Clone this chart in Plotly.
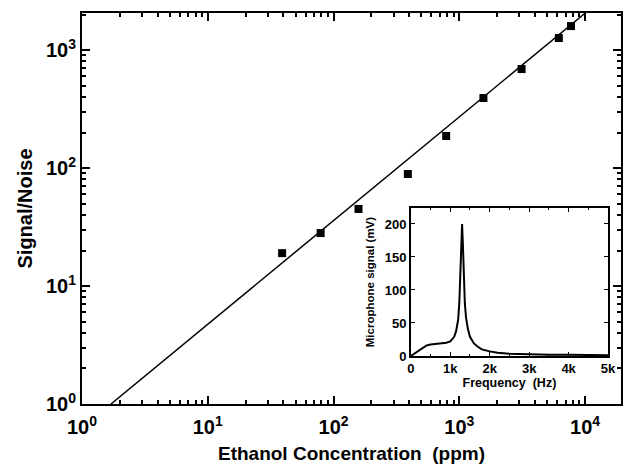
import plotly.graph_objects as go

# Main data: Signal/Noise vs ethanol concentration
conc_ppm = [39, 79, 158, 390, 787, 1556, 3130, 6190, 7730]
snr = [19.0, 28.1, 45.0, 89, 187, 392, 690, 1264, 1597]

# Fitted line (end points)
fit_x = [1.7, 10000]
fit_y = [1.0, 2050]

# Inset: microphone signal vs frequency
freq_khz = [0, 0.05, 0.1, 0.2, 0.3, 0.4, 0.5, 0.6, 0.7, 0.8, 0.9, 1.0, 1.05, 1.1, 1.15,
            1.2, 1.23, 1.26, 1.28, 1.3, 1.32, 1.34, 1.37, 1.4, 1.45, 1.5, 1.6, 1.7, 1.8,
            2.0, 2.2, 2.5, 3.0, 3.5, 4.0, 4.5, 5.0]
mic_mv = [0, 2, 5, 9, 13, 16, 17.5, 18, 18.5, 19, 20, 22, 25, 29, 38,
          55, 80, 140, 185, 200, 170, 120, 80, 58, 40, 29, 19, 14, 10,
          7, 5, 3.5, 2.5, 2, 1.8, 1.5, 1.2]

main_ticks = [1, 10, 100, 1000, 10000]
main_ticktext = ["10<sup>0</sup>", "10<sup>1</sup>", "10<sup>2</sup>", "10<sup>3</sup>", "10<sup>4</sup>"]
inset_xticks = [0, 1, 2, 3, 4, 5]
inset_xticktext = ["0", "1k", "2k", "3k", "4k", "5k"]
inset_yticks = [0, 50, 100, 150, 200]

minor_vals = [m * 10 ** e for e in range(0, 5) for m in range(2, 10)]

FONT = "Liberation Sans, Arial, sans-serif"

fig = go.Figure()
fig.add_trace(go.Scatter(x=fit_x, y=fit_y, mode="lines",
                         line=dict(color="black", width=1.5), showlegend=False))
fig.add_trace(go.Scatter(x=conc_ppm, y=snr, mode="markers",
                         marker=dict(symbol="square", size=8, color="black"), showlegend=False))
fig.add_trace(go.Scatter(x=freq_khz, y=mic_mv, mode="lines", xaxis="x2", yaxis="y2",
                         line=dict(color="black", width=2), showlegend=False))

axis_common = dict(showline=True, linecolor="black", linewidth=2, mirror="ticks",
                   ticks="inside", tickcolor="black", showgrid=False, zeroline=False,
                   automargin=False)

fig.update_layout(
    width=624, height=472,
    margin=dict(l=82, r=3, t=13, b=68),
    paper_bgcolor="white", plot_bgcolor="white",
    font=dict(family=FONT, color="black", weight="bold"),
    xaxis=dict(type="log", range=[0, 4.286], tickvals=main_ticks, ticktext=main_ticktext,
               ticklen=8, tickwidth=1.5, ticklabelstandoff=4,
               minor=dict(tickvals=minor_vals, ticks="inside", ticklen=4, tickcolor="black", showgrid=False),
               tickfont=dict(size=20, family=FONT, weight="bold"),
               title=dict(text="Ethanol Concentration  (ppm)", font=dict(size=19, family=FONT, weight="bold"),
                          standoff=10),
               **axis_common),
    yaxis=dict(type="log", range=[0, 3.314], tickvals=main_ticks, ticktext=main_ticktext,
               ticklen=8, tickwidth=1.5,
               minor=dict(tickvals=minor_vals, ticks="inside", ticklen=4, tickcolor="black", showgrid=False),
               tickfont=dict(size=20, family=FONT, weight="bold"),
               title=dict(text="Signal/Noise", font=dict(size=20, family=FONT, weight="bold"),
                          standoff=8),
               **axis_common),
    xaxis2=dict(domain=[0.610, 0.976], anchor="y2", range=[0, 5],
                tickvals=inset_xticks, ticktext=inset_xticktext, ticklen=4, tickwidth=1,
                minor=dict(dtick=0.5, ticks="inside", ticklen=2, tickcolor="black"),
                tickfont=dict(size=13, family=FONT, weight="bold"),
                title=dict(text="Frequency  (Hz)", font=dict(size=12.5, family=FONT, weight="bold"),
                           standoff=3),
                showline=True, linecolor="black", linewidth=1.5, mirror="ticks",
                ticks="inside", tickcolor="black", showgrid=False, zeroline=False, automargin=False),
    yaxis2=dict(domain=[0.1228, 0.501], anchor="x2", range=[0, 224],
                tickvals=inset_yticks, ticklen=4, tickwidth=1,
                tickfont=dict(size=13, family=FONT, weight="bold"),
                title=dict(text="Microphone signal (mV)", font=dict(size=11.5, family=FONT, weight="bold"),
                           standoff=8),
                showline=True, linecolor="black", linewidth=1.5, mirror="ticks",
                ticks="inside", tickcolor="black", showgrid=False, zeroline=False, automargin=False),
)

fig.write_html("out.html", post_script="document.body.style.margin='0';",
               config={"displayModeBar": False})
